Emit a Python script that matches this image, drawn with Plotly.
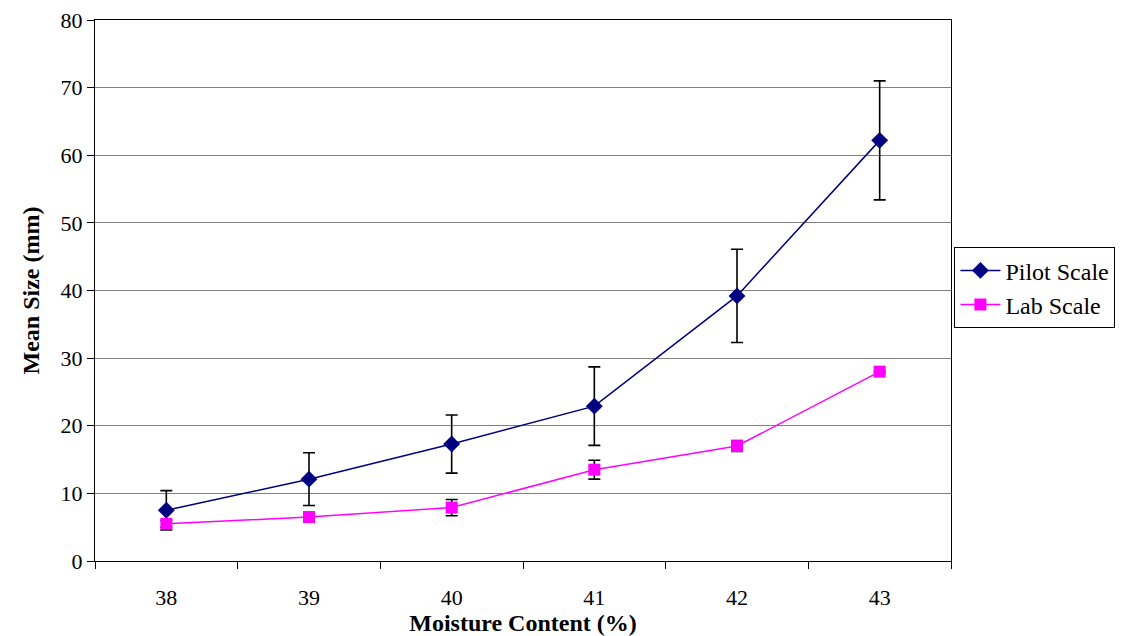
import plotly.graph_objects as go

categories = ["38", "39", "40", "41", "42", "43"]
pilot_mean = [7.5, 12.1, 17.3, 22.9, 39.2, 62.2]
pilot_err = [2.9, 3.9, 4.3, 5.8, 6.9, 8.8]
lab_mean = [5.5, 6.5, 7.9, 13.5, 17.0, 28.0]
lab_err = [0.5, 0.6, 1.2, 1.4, 0.8, 0.0]

font_family = '"Liberation Serif", "Times New Roman", serif'

fig = go.Figure()
fig.add_trace(go.Scatter(
    x=categories, y=pilot_mean, name="Pilot Scale", mode="lines+markers",
    line=dict(color="#000080", width=1.5),
    marker=dict(symbol="diamond", size=13, color="#000080"),
    error_y=dict(type="data", array=pilot_err, visible=True, color="black", thickness=1.6, width=6),
))
fig.add_trace(go.Scatter(
    x=categories, y=lab_mean, name="Lab Scale", mode="lines+markers",
    line=dict(color="#FF00FF", width=1.5),
    marker=dict(symbol="square", size=12, color="#FF00FF"),
    error_y=dict(type="data", array=lab_err, visible=True, color="black", thickness=1.6, width=6),
))

fig.update_layout(
    width=1123, height=636,
    margin=dict(l=87, r=180, t=12, b=83, autoexpand=False),
    paper_bgcolor="white", plot_bgcolor="white",
    font=dict(family=font_family, size=22, color="black"),
    showlegend=True,
    legend=dict(x=1.004, y=0.505, xanchor="left", yanchor="middle",
                bordercolor="black", borderwidth=1, bgcolor="white",
                font=dict(family=font_family, size=24), tracegroupgap=0,
                itemwidth=40),
)
fig.update_xaxes(
    type="category", tickson="boundaries", range=[-0.5, 5.5],
    showline=True, linecolor="black", linewidth=1, mirror=True,
    ticks="outside", ticklen=7, tickcolor="black",
    ticklabelstandoff=17, ticklabeloverflow="allow", automargin=False,
    showgrid=False,
    title=dict(text="<b>Moisture Content (%)</b>", font=dict(family=font_family, size=24), standoff=2),
    tickfont=dict(family=font_family, size=22),
)
fig.update_yaxes(
    range=[0, 80], dtick=10,
    showline=True, linecolor="black", linewidth=1, mirror=True,
    ticks="outside", ticklen=7, tickcolor="black",
    ticklabeloverflow="allow", automargin=False,
    showgrid=True, gridcolor="#808080", gridwidth=1,
    zeroline=False,
    title=dict(text="<b>Mean Size (mm)</b>", font=dict(family=font_family, size=24), standoff=14),
    tickfont=dict(family=font_family, size=22),
)

fig.write_html("out.html")
